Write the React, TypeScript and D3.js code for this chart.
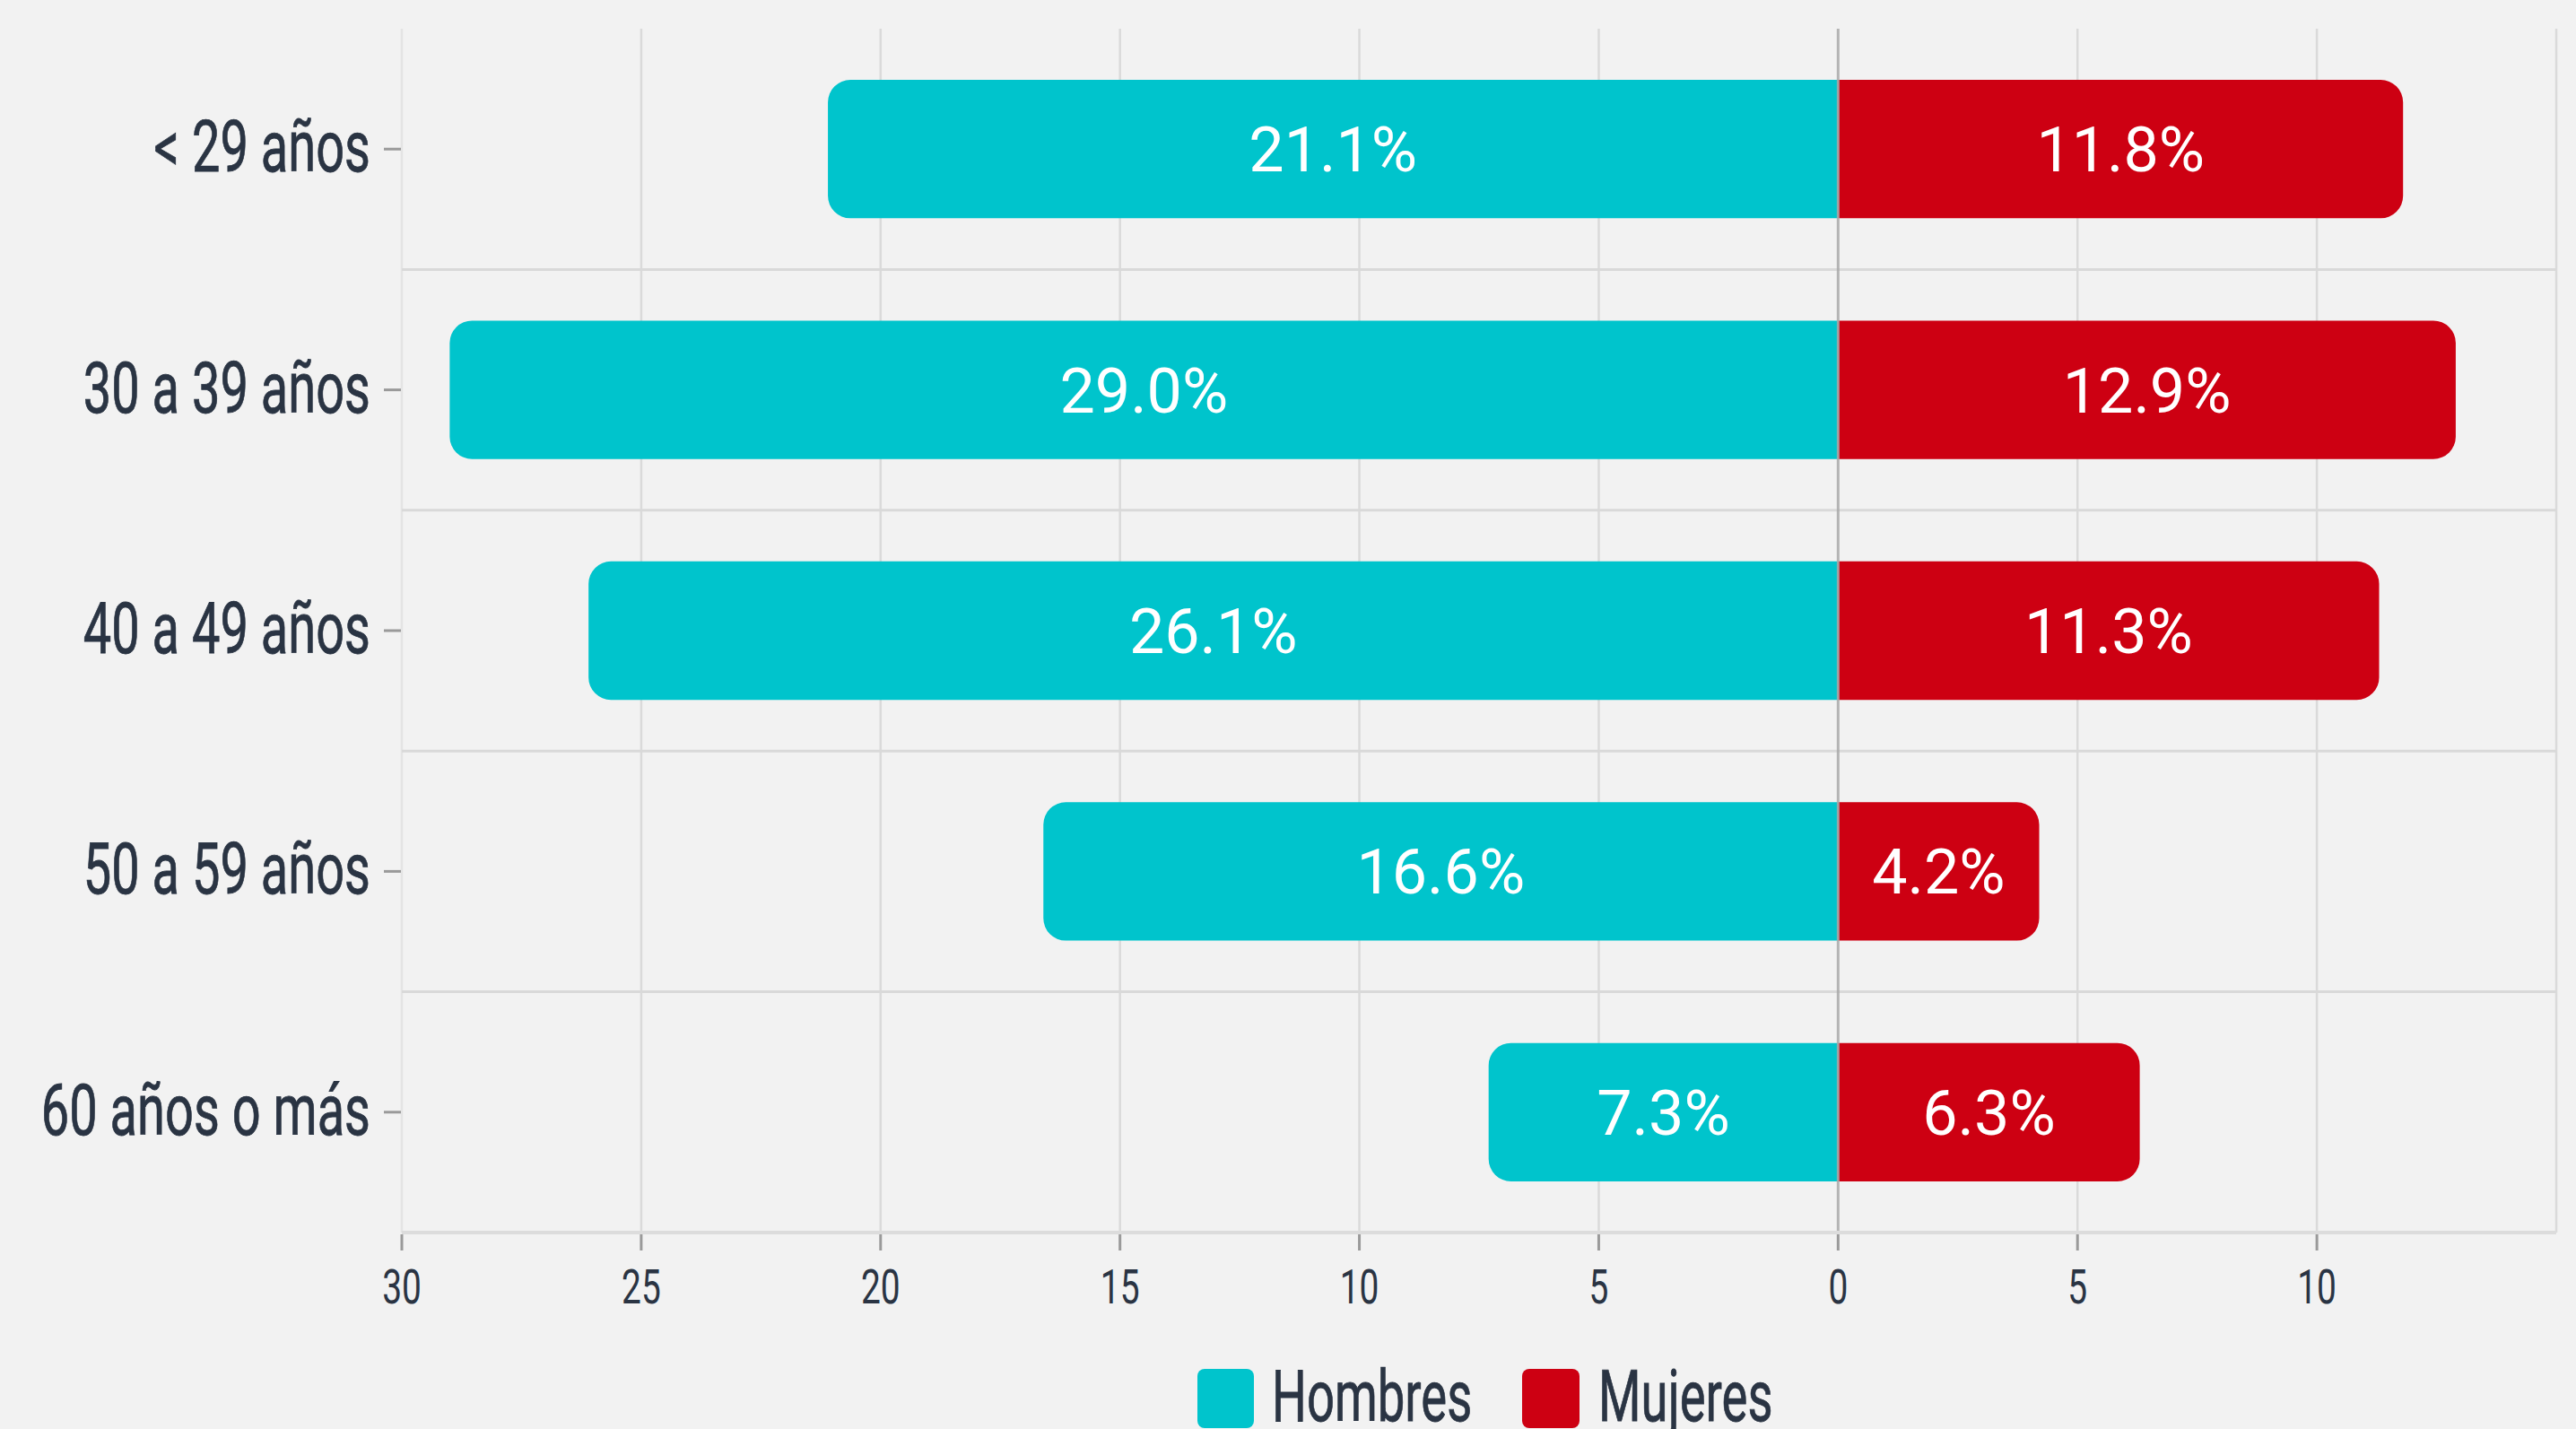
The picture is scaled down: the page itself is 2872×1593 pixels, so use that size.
import React from "react";
import * as d3 from "d3";

const categories = ["< 29 años", "30 a 39 años", "40 a 49 años", "50 a 59 años", "60 años o más"];
const hombres = [21.1, 29.0, 26.1, 16.6, 7.3];
const mujeres = [11.8, 12.9, 11.3, 4.2, 6.3];
const seriesNames = ["Hombres", "Mujeres"];
const xTicks = [-30, -25, -20, -15, -10, -5, 0, 5, 10];
const gridTicks = [-30, -25, -20, -15, -10, -5, 5, 10, 15];

const W = 2872;
const H = 1593;
const CYAN = "#00c4cc";
const RED = "#cd0012";
const TEXT = "#2a3443";

export default function App() {
  const x = d3.scaleLinear().domain([-30, 15]).range([448, 2850]);
  const y = d3
    .scaleBand<string>()
    .domain(categories)
    .range([32, 1374])
    .paddingInner(0.425)
    .paddingOuter(0.2125);
  const bw = y.bandwidth();
  const r = 25;
  const x0 = x(0);
  const top = y.range()[0];
  const bottom = y.range()[1];

  const leftBar = (v: number, yy: number) => {
    const xl = x(-v);
    const b = yy + bw;
    return `M${x0},${yy}H${xl + r}A${r},${r} 0 0 0 ${xl},${yy + r}V${b - r}A${r},${r} 0 0 0 ${xl + r},${b}H${x0}Z`;
  };
  const rightBar = (v: number, yy: number) => {
    const xr = x(v);
    const b = yy + bw;
    return `M${x0},${yy}H${xr - r}A${r},${r} 0 0 1 ${xr},${yy + r}V${b - r}A${r},${r} 0 0 1 ${xr - r},${b}H${x0}Z`;
  };

  const separators = categories.slice(1).map((c, i) => {
    const prev = y(categories[i])! + bw;
    return (prev + y(c)!) / 2;
  });

  return (
    <svg
      width={W}
      height={H}
      style={{ position: "absolute", left: 0, top: 0, background: "#f2f2f2" }}
      fontFamily="Roboto, 'Noto Sans', sans-serif"
    >
      <rect x={0} y={0} width={W} height={H} fill="#f2f2f2" />
      {/* vertical gridlines */}
      {gridTicks.map((t) => (
        <line
          key={"g" + t}
          x1={x(t)}
          x2={x(t)}
          y1={top}
          y2={bottom}
          stroke={t === -30 ? "#e4e4e4" : "#dadada"}
          strokeWidth={2.5}
        />
      ))}
      {/* horizontal separators */}
      {separators.map((s, i) => (
        <line key={"s" + i} x1={x(-30)} x2={x(15)} y1={s} y2={s} stroke="#d9d9d9" strokeWidth={3} />
      ))}
      {/* bars */}
      {categories.map((c, i) => (
        <g key={"b" + c}>
          <path d={leftBar(hombres[i], y(c)!)} fill={CYAN} />
          <path d={rightBar(mujeres[i], y(c)!)} fill={RED} />
        </g>
      ))}
      {/* zero line */}
      <line x1={x0} x2={x0} y1={top} y2={bottom} stroke="#aaaaaa" strokeWidth={3} opacity={0.85} />
      {/* value labels */}
      {categories.map((c, i) => {
        const cy = y(c)! + bw / 2;
        return (
          <g key={"l" + c} fill="#ffffff" fontSize={70} textAnchor="middle">
            <text x={(x(-hombres[i]) + x0) / 2} y={cy + 25}>
              {hombres[i].toFixed(1) + "%"}
            </text>
            <text x={(x(mujeres[i]) + x0) / 2} y={cy + 25}>
              {mujeres[i].toFixed(1) + "%"}
            </text>
          </g>
        );
      })}
      {/* bottom axis */}
      <line x1={x(-30)} x2={x(15)} y1={bottom} y2={bottom} stroke="#dcdcdc" strokeWidth={4} />
      {xTicks.map((t) => (
        <g key={"t" + t}>
          <line x1={x(t)} x2={x(t)} y1={bottom + 2} y2={bottom + 20} stroke="#9a9a9a" strokeWidth={3} />
          <text
            transform={`translate(${x(t)},${1453}) scale(0.72,1)`}
            textAnchor="middle"
            fontSize={54}
            fill={TEXT}
          >
            {Math.abs(t)}
          </text>
        </g>
      ))}
      {/* y axis labels and ticks */}
      {categories.map((c) => {
        const cy = y(c)! + bw / 2;
        return (
          <g key={"y" + c}>
            <line x1={428} x2={447} y1={cy} y2={cy} stroke="#9a9a9a" strokeWidth={3} />
            <text
              transform={`translate(413,${cy + 25}) scale(0.7,1)`}
              textAnchor="end"
              fontSize={80}
              fontWeight={400}
              stroke={TEXT}
              strokeWidth={0.8}
              fill={TEXT}
            >
              {c}
            </text>
          </g>
        );
      })}
      {/* legend */}
      <g>
        <rect x={1335} y={1526} width={63} height={66} rx={8} fill={CYAN} />
        <text transform={`translate(1418,1584) scale(0.69,1)`} fontSize={79} stroke={TEXT} strokeWidth={0.8} fill={TEXT}>
          {seriesNames[0]}
        </text>
        <rect x={1697} y={1526} width={64} height={66} rx={8} fill={RED} />
        <text transform={`translate(1782,1584) scale(0.69,1)`} fontSize={79} stroke={TEXT} strokeWidth={0.8} fill={TEXT}>
          {seriesNames[1]}
        </text>
      </g>
    </svg>
  );
}
